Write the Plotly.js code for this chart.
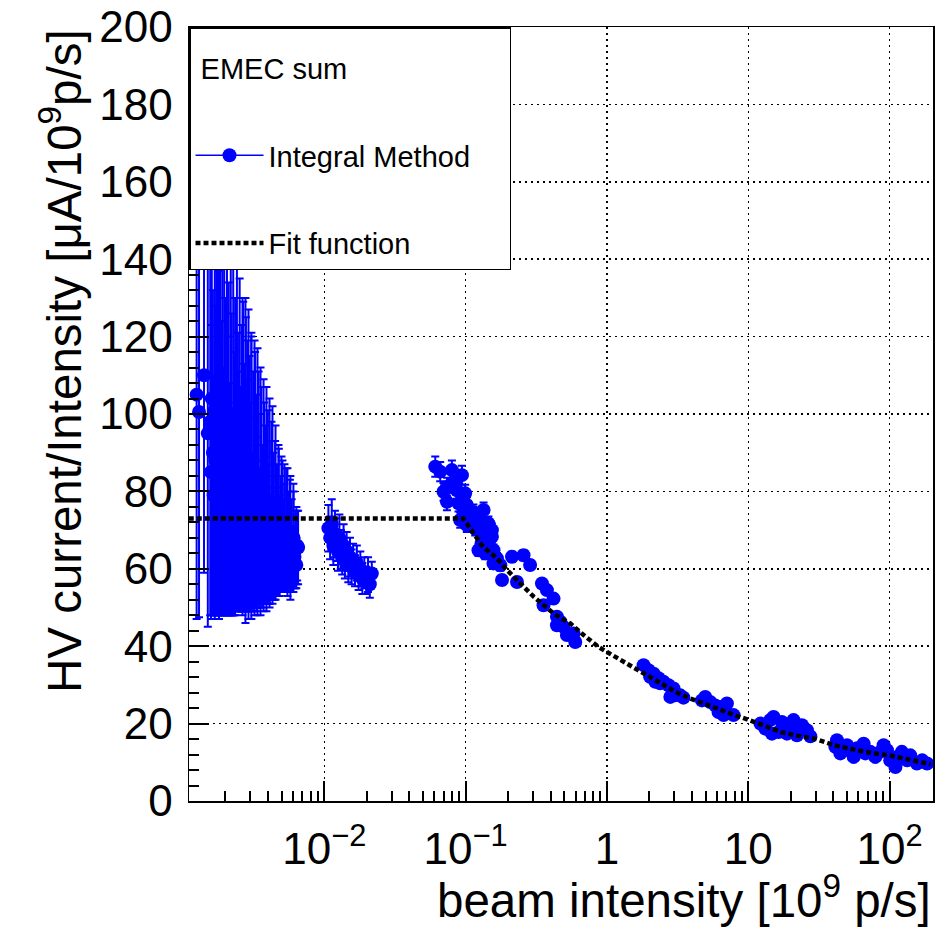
<!DOCTYPE html>
<html>
<head>
<meta charset="utf-8">
<script src="https://cdn.plot.ly/plotly-3.0.1.min.js"></script>
<style>html,body{margin:0;padding:0;background:#fff;}#chart{width:952px;height:936px;}</style>
</head>
<body>
<div id="chart"></div>
<script>
// ---- Data ----
// Low-intensity scan (about 1e-3 .. 6.5e-3)
const intensityA = [0.00125,0.00130,0.00141,0.00150,
  0.00156,0.00158,0.00160,0.00163,0.00165,0.00168,0.00170,0.00172,0.00175,0.00177,
  0.00180,0.00183,0.00185,0.00188,0.00191,0.00194,0.00196,0.00199,0.00202,0.00205,
  0.00208,0.00211,0.00214,0.00218,0.00221,0.00224,0.00227,0.00231,0.00234,0.00238,
  0.00241,0.00245,0.00248,0.00252,0.00256,0.00260,0.00263,0.00267,0.00271,0.00275,
  0.00279,0.00284,0.00288,0.00292,0.00296,0.00301,0.00305,0.00310,0.00314,0.00319,
  0.00324,0.00329,0.00333,0.00338,0.00343,0.00349,0.00354,0.00359,0.00365,0.00370,
  0.00376,0.00381,0.00387,0.00393,0.00399,0.00405,0.00411,0.00417,0.00423,0.00430,
  0.00436,0.00443,0.00449,0.00456,0.00463,0.00470,0.00477,0.00484,0.00491,0.00499,
  0.00506,0.00514,0.00522,0.00529,0.00537,0.00546,0.00554,0.00562,0.00571,0.00579,
  0.00588,0.00597,0.00606,0.00615,0.00624,0.00634,0.00643,0.00653,
  0.00264,0.00277,0.00291,0.00305,0.00321,0.00337,0.00354,0.00372,0.00390,0.00410,
  0.00430,0.00452,0.00474,0.00498,0.00523,0.00549,0.00576,0.00605,0.00635];
const ratioA = [105,100.5,110,95,
  98,85,104,90,79,101,88,95,82,106,
  92,77,99,86,94,80,103,89,75,96,
  84,91,78,100,87,73,93,82,89,76,
  97,85,80,92,78,86,74,89,81,72,
  87,79,84,71,82,76,85,70,80,74,
  83,69,77,72,81,68,75,79,71,67,
  77,70,74,66,76,69,72,65,75,68,
  71,64,73,67,70,63,72,66,69,64,
  71,66,68,63,70,65,67,62,69,64,
  66,62,68,63,65,61,66,65.5,
  89,88,87,84,83.5,82.5,80,79,78,77,
  76.5,74.5,72.5,71.5,70.5,69.5,68,68,66];
const errA = [58,53,51,50,
  50,38,56,42,31,54,40,47,34,58,
  45,29,51,38,46,32,55,41,27,48,
  36,43,30,52,39,25,45,34,41,27,
  48,36,31,43,29,37,25,40,32,22,
  38,30,35,21,33,27,35,20,31,25,
  33,19,28,22,30,18,25,28,21,16,
  26,19,23,15,25,18,21,13,23,16,
  19,12,20,14,17,10,19,13,15,10,
  17,12,14,9,16,11,13,8,14,10,
  12,8,12,8,10,6,9,9.5,
  41,42,40,37,35.5,34.5,32,30,29,27,
  25.5,22.5,19.5,17.5,16.5,16.5,16,14,10];

// Second scan (around 1e-2)
const intensityB = [0.0107,0.0110,0.0113,0.0116,0.0119,0.0122,0.0125,0.0128,0.0131,0.0134,0.0137,0.0140,0.0144,0.0148,0.0152,0.0156,0.0160,0.0165,0.0170,0.0175,0.0180,0.0186,0.0192,0.0198,0.0204,0.0210,0.0217];
const ratioB = [70.5,68,71.5,66,69,67.5,64.5,68,65,63,66,62,64.5,61,63,60.5,62,59.5,61.5,58.5,60,57.5,59,57,58.5,56,58.8];
const errB = [6,5.5,6.5,5,6,5.5,5,6,5,4.5,5.5,4.5,5,4.5,5,4.5,4.5,4,4.5,4,4.5,4,4,3.5,4.5,3.5,3];

// Third scan (0.06 .. 0.6)
const intensityC = [0.0610,0.0661,0.0800,0.0942,0.0738,0.0698,0.0868,0.0738,0.0993,0.0891,0.102,0.0966,0.0916,0.1137,0.134,0.1137,0.130,0.145,0.1535,0.1268,0.102,0.1535,0.1415,0.1234,0.1575,0.1377,0.1667,0.1575,0.176,0.213,0.257,0.286,0.181,0.231,0.347,0.376,0.419,0.356,0.443,0.493,0.580,0.521,0.597,0.443,0.468,0.0800,0.0844,0.0966,0.108,0.120,0.117,0.134,0.130,0.145];
const ratioC = [86.4,85.1,85.5,84.2,81.2,79.9,80.3,77.3,79.5,76.9,76.5,74.7,72.6,74.7,75.2,72.1,72.6,71.7,70.0,69.6,71.3,68.3,67.4,64.8,64.8,64.0,62.7,61.4,60.9,63.1,63.5,61.0,57.1,56.6,56.2,54.5,52.3,50.6,47.6,45.0,43.3,42.9,41.1,45.4,46.3,82.1,82.9,77.3,73.4,73.9,70.4,68.3,66.6,65.7];
const errC = [2.6,2.5,2.5,2.4,2.3,2.3,2.2,2.2,2.2,2.1,2.0,2.0,2.0,1.9,1.9,1.8,1.8,1.8,1.7,1.7,1.8,1.6,1.6,1.5,1.5,1.5,1.4,1.4,1.4,1.3,1.3,1.2,1.2,1.2,1.1,1.1,1.0,1.0,1.0,0.9,0.9,0.9,0.9,1.0,1.0,2.3,2.3,2.1,1.9,1.8,1.8,1.7,1.6,1.6];

// Fourth scan (1.8 .. 3.5)
const intensityD = [1.816,1.97,2.14,2.02,2.32,2.51,2.73,2.96,2.81,3.04,3.30,3.48,2.38,2.20];
const ratioD = [35.1,33.8,32.9,32.1,31.7,30.8,29.9,29.1,26.9,27.3,27.3,26.7,30.4,30.8];
const errD = [0.8,0.8,0.7,0.7,0.7,0.7,0.6,0.6,0.6,0.6,0.6,0.6,0.7,0.7];

// Fifth scan (4.7 .. 8)
const intensityE = [4.96,4.70,5.38,5.84,6.34,7.06,6.87,6.16,6.69,7.87];
const ratioE = [26.9,26.0,25.6,24.7,24.3,25.2,23.5,23.0,22.2,22.2];
const errE = [0.5,0.5,0.5,0.5,0.5,0.5,0.5,0.5,0.5,0.5];

// Sixth scan (12 .. 28)
const intensityF = [12.2,13.2,14.3,15.1,14.7,16.4,17.3,18.8,20.9,22.1,24.0,26.0,27.5,18.8,22.1];
const ratioF = [20.0,18.7,20.9,21.7,17.4,17.8,20.4,19.6,20.9,19.1,19.6,18.3,16.7,17.4,17.0];
const errF = [0.4,0.4,0.4,0.4,0.4,0.4,0.4,0.4,0.4,0.4,0.4,0.4,0.4,0.4,0.4];

// Seventh scan (40 .. 190)
const intensityG = [42.4,41.3,44.8,50.0,54.2,58.8,65.5,67.3,73.0,79.2,85.9,90.7,95.8,101,110,113,122,133,140,156,170,184,55.7,47.3];
const ratioG = [15.7,14.0,12.3,14.4,12.7,13.6,14.8,12.3,12.7,11.4,12.7,14.4,13.1,10.5,8.8,11.4,12.7,10.5,11.8,9.7,10.5,9.7,11.4,13.1];
const errG = [0.3,0.3,0.3,0.3,0.3,0.3,0.3,0.3,0.3,0.3,0.3,0.3,0.3,0.3,0.3,0.3,0.3,0.3,0.3,0.3,0.3,0.3,0.3,0.3];

// Fit function curve
const fitX = [0.0011,0.003,0.01,0.03,0.06,0.09,0.096,0.102,0.115,0.130,0.147,0.167,0.195,0.231,0.265,0.303,0.36,0.419,0.48,0.550,0.683,0.873,1.0,1.25,1.54,2.0,2.51,3.1,3.89,5.0,6.34,8.0,10,13,17.1,22,29.4,40.7,52,66.4,82,100,122,148,170,195];
const fitY = [73,73,73,73,73,73,73,71.7,68.8,66.1,64.3,62.7,59.8,57.1,55.0,52.8,50.5,48.5,47.1,45.9,42.9,39.8,38.5,36.4,34.7,32.1,29.9,28.1,26.5,24.9,23.5,22.2,21.0,19.3,17.8,16.9,16.1,14.4,13.5,12.7,12.2,11.8,11.1,10.5,10.0,9.5];

// Axis tick labels
const xTickVals = [0.01,0.1,1,10,100];
const xTickText = ['10<sup>\u22122</sup>','10<sup>\u22121</sup>','1','10','10<sup>2</sup>'];

// ---- Chart ----
const FONT = 'Liberation Sans, Arial, Helvetica, sans-serif';
const BLUE = '#0000ff';
const X_RANGE_LOG10 = [-2.957, 2.307];

const allX = [].concat(intensityA,intensityB,intensityC,intensityD,intensityE,intensityF,intensityG);
const allY = [].concat(ratioA,ratioB,ratioC,ratioD,ratioE,ratioF,ratioG);
const allE = [].concat(errA,errB,errC,errD,errE,errF,errG);

// positions (in decades) of the minor ticks 2..9 x 10^k, drawn by an overlaid tick-only axis
const minorDecades = [];
for (let e = -3; e <= 2; e++) for (let k = 2; k <= 9; k++) minorDecades.push(e + Math.log10(k));

const traces = [
  {
    type: 'scatter', mode: 'markers', x: allX, y: allY,
    error_y: {type: 'data', array: allE, visible: true, color: BLUE, thickness: 2, width: 4},
    marker: {color: BLUE, size: 14, line: {width: 0}},
    showlegend: false, legendgroup: 'g1', hoverinfo: 'x+y'
  },
  {
    type: 'scatter', mode: 'lines+markers', x: [null], y: [null], xaxis: 'x2', yaxis: 'y',
    name: 'Integral Method', legendgroup: 'g1',
    line: {color: BLUE, width: 1.5}, marker: {color: BLUE, size: 14}
  },
  {
    type: 'scatter', mode: 'lines', x: fitX, y: fitY, name: 'Fit function', legendgroup: 'g2',
    line: {color: '#000', width: 4.5, dash: '5px,3px'}
  }
];

const axisCommon = {
  ticks: 'inside', ticklen: 20, tickwidth: 2, tickcolor: '#000',
  showgrid: true, gridcolor: '#000', gridwidth: 1.5, griddash: '2px,4px',
  showline: true, linecolor: '#000', linewidth: 1.5, mirror: true, zeroline: false,
  tickfont: {family: FONT, size: 44, color: '#000'}
};

const layout = {
  width: 952, height: 936,
  margin: {l: 189, r: 19, t: 27, b: 135, pad: 0, autoexpand: false},
  paper_bgcolor: '#fff', plot_bgcolor: '#fff',
  font: {family: FONT, color: '#000'},
  xaxis: Object.assign({}, axisCommon, {
    type: 'log', range: X_RANGE_LOG10,
    tickmode: 'array', tickvals: xTickVals, ticktext: xTickText,
    ticklabelstandoff: 9
  }),
  xaxis2: {
    type: 'linear', range: X_RANGE_LOG10, overlaying: 'x', anchor: 'y', side: 'bottom',
    tickmode: 'array', tickvals: minorDecades, ticks: 'inside', ticklen: 10, tickwidth: 2, tickcolor: '#000',
    showticklabels: false, showgrid: false, showline: false, zeroline: false, fixedrange: true
  },
  yaxis: Object.assign({}, axisCommon, {
    range: [0, 200], tickmode: 'linear', tick0: 0, dtick: 20,
    ticklabelstandoff: 6,
    minor: {tickmode: 'linear', tick0: 0, dtick: 4, ticks: 'inside', ticklen: 10, tickwidth: 2, tickcolor: '#000', showgrid: false}
  }),
  legend: {
    x: 0, y: 1, xref: 'paper', yref: 'paper', xanchor: 'left', yanchor: 'top',
    bgcolor: '#fff', bordercolor: '#000', borderwidth: 1.5,
    font: {family: FONT, size: 29, color: '#000'},
    title: {
      text: '<span style="font-size:29px">\u00a0EMEC sum</span><br>' + '\u00a0'.repeat(29),
      font: {family: FONT, size: 39, color: '#000'}
    },
    traceorder: 'grouped', tracegroupgap: 47, itemwidth: 68
  },
  annotations: [
    {
      text: 'HV current/Intensity [\u03bcA/10<sup>9</sup>p/s]', textangle: -90,
      xref: 'paper', yref: 'paper', x: -0.215, y: 1, xanchor: 'left', yanchor: 'top',
      showarrow: false, font: {family: FONT, size: 47.5, color: '#000'}
    },
    {
      text: 'beam intensity [10<sup>9</sup> p/s]',
      xref: 'paper', yref: 'paper', x: 1, y: -0.165, xanchor: 'right', yanchor: 'bottom',
      showarrow: false, font: {family: FONT, size: 47.5, color: '#000'}
    }
  ]
};

Plotly.newPlot('chart', traces, layout, {displayModeBar: false, staticPlot: true});
</script>
</body>
</html>
